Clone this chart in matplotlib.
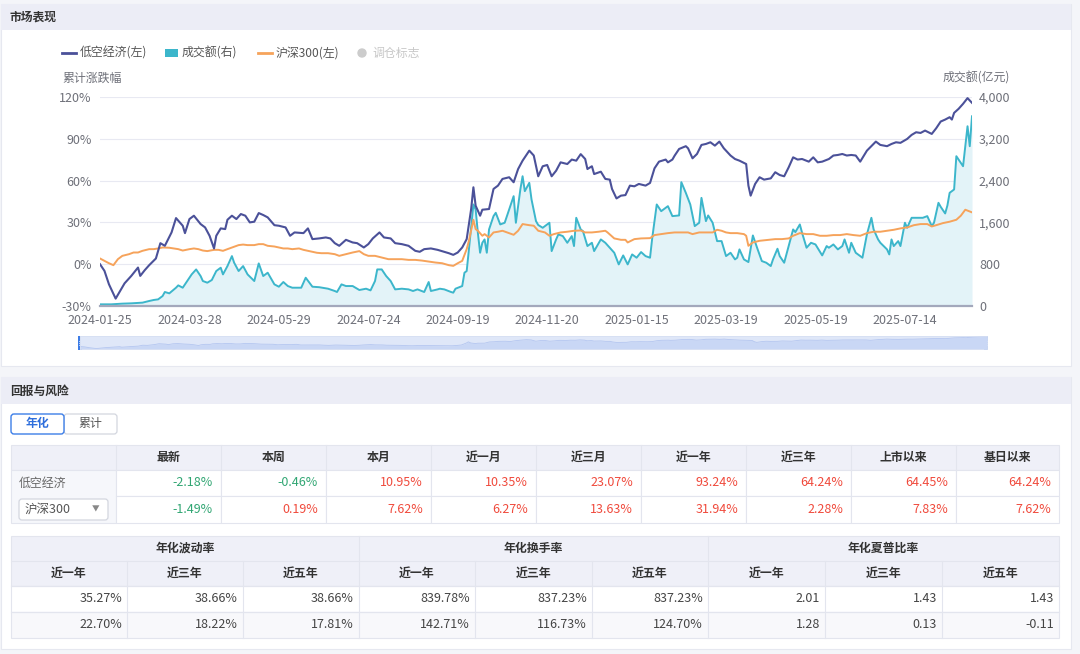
import matplotlib
matplotlib.use("Agg")
import matplotlib.pyplot as plt
from matplotlib.patches import Rectangle, FancyBboxPatch, Circle
from matplotlib.ticker import FuncFormatter

plt.rcParams['font.family'] = ['Noto Sans CJK SC', 'DejaVu Sans']

# ---- chart data (trading-day index since 2024-01-25)
date_labels = ['2024-01-25', '2024-03-28', '2024-05-29', '2024-07-24', '2024-09-19',
               '2024-11-20', '2025-01-15', '2025-03-19', '2025-05-19', '2025-07-14']
days_per_label = 40

low_day = [0, 2, 4, 7, 9, 11, 14, 17, 18, 20, 22, 25, 27, 29, 32, 34, 37, 38, 40, 42,
           45, 47, 49, 51, 52, 54, 56, 57, 59, 61, 63, 65, 67, 69, 71, 73, 75, 78, 80, 83,
           85, 87, 91, 93, 95, 98, 101, 103, 105, 107, 110, 113, 115, 118, 120, 122, 125, 127, 130, 132,
           135, 138, 141, 143, 145, 148, 151, 154, 156, 158, 160, 162, 164, 166, 167, 168, 170, 171, 174, 176,
           178, 180, 183, 185, 187, 189, 192, 194, 196, 198, 200, 202, 204, 206, 209, 211, 213, 215, 217, 218,
           220, 221, 224, 226, 228, 229, 231, 233, 235, 237, 239, 241, 244, 246, 248, 250, 253, 254, 256, 257,
           259, 262, 263, 265, 267, 269, 271, 273, 275, 277, 279, 282, 284, 286, 289, 290, 291, 293, 295, 297,
           300, 302, 304, 306, 308, 310, 312, 314, 317, 319, 321, 323, 326, 328, 330, 332, 334, 336, 338, 340,
           343, 345, 347, 349, 352, 354, 356, 358, 361, 363, 365, 367, 369, 372, 374, 376, 378, 380, 381, 382,
           384, 386, 388, 390]
low_pct = [0, -4.8, -14.4, -24.7, -19.2, -13.7, -8.4, -2.4, -8.4, -4.3, -0.7, 4.1, 15.1, 13.2, 22.8, 33.1, 27.6, 22.3, 32.4, 34.8,
           28.8, 26.4, 20.4, 11.3, 20.4, 25.7, 25.2, 31.9, 34.8, 32.4, 36.0, 34.8, 30.0, 30.5, 36.7, 35.3, 33.6, 28.0, 27.6, 26.4,
           20.4, 22.8, 22.3, 25.7, 18.0, 18.5, 19.2, 18.5, 15.1, 13.2, 17.5, 15.6, 15.1, 12.0, 14.4, 18.5, 22.8, 19.2, 18.5, 15.1,
           14.4, 13.2, 9.6, 8.9, 10.8, 11.3, 10.3, 8.9, 7.9, 6.7, 8.4, 12.0, 18.0, 39.6, 55.2, 42.0, 34.8, 39.1, 39.6, 54.0,
           56.4, 61.2, 62.4, 58.8, 68.3, 74.3, 81.5, 78.0, 63.1, 70.3, 71.2, 63.1, 67.1, 73.1, 71.9, 75.1, 74.3, 79.0, 75.5, 68.3,
           70.3, 64.7, 66.4, 61.2, 60.7, 54.0, 47.2, 49.2, 49.6, 56.4, 55.9, 57.6, 56.4, 58.3, 68.8, 73.6, 75.1, 73.1, 75.1, 77.9,
           82.7, 84.7, 83.2, 76.0, 79.1, 85.6, 86.3, 87.5, 85.1, 88.0, 83.2, 78.0, 75.5, 74.3, 71.9, 56.4, 49.2, 57.6, 62.4, 60.7,
           61.6, 66.0, 64.0, 63.1, 69.5, 76.7, 75.1, 75.5, 73.6, 76.7, 73.1, 73.6, 75.5, 78.0, 78.4, 79.1, 78.0, 78.4, 78.0, 73.6,
           81.5, 84.7, 88.0, 85.6, 84.7, 86.3, 87.5, 87.1, 89.9, 92.8, 94.7, 94.2, 95.9, 93.5, 97.6, 102.4, 103.8, 105.5, 103.8, 108.6,
           111.5, 115.1, 119.2, 115.8]

hs_day = [0, 2, 4, 6, 8, 10, 13, 15, 17, 19, 22, 24, 26, 28, 31, 33, 35, 37, 40, 42,
          44, 46, 48, 51, 53, 55, 57, 60, 62, 64, 66, 69, 71, 73, 75, 78, 80, 82, 84, 86,
          89, 91, 93, 95, 97, 99, 102, 105, 107, 110, 113, 116, 118, 120, 123, 126, 129, 132, 135, 138,
          141, 144, 147, 150, 153, 156, 158, 160, 162, 164, 165, 167, 168, 169, 171, 172, 174, 176, 178, 180,
          183, 185, 187, 189, 192, 194, 196, 199, 201, 203, 206, 209, 212, 215, 217, 220, 223, 226, 227, 230,
          233, 235, 236, 239, 242, 246, 248, 251, 254, 257, 260, 263, 265, 268, 271, 274, 276, 278, 280, 282,
          285, 288, 289, 290, 292, 295, 299, 302, 305, 308, 310, 313, 316, 319, 322, 325, 328, 331, 334, 337,
          340, 343, 346, 349, 352, 355, 358, 361, 364, 367, 370, 372, 374, 377, 380, 383, 385, 387, 390]
hs_pct = [4.1, 2.4, 0.7, -0.7, 3.6, 6.0, 7.2, 8.4, 8.4, 9.6, 10.8, 10.8, 11.3, 12.0, 11.8, 11.3, 10.8, 9.8, 10.8, 11.3,
          10.8, 9.8, 9.4, 10.3, 10.3, 9.6, 10.8, 12.5, 13.7, 14.1, 13.7, 13.7, 14.4, 14.4, 13.2, 12.7, 12.0, 11.3, 11.3, 10.8,
          11.3, 10.3, 9.6, 8.9, 8.2, 7.9, 7.9, 7.2, 6.0, 7.2, 8.4, 9.4, 7.2, 6.0, 6.0, 4.8, 3.6, 3.6, 3.6, 3.1,
          3.1, 2.6, 1.9, 1.2, 0.7, -0.7, -1.2, 0.7, 2.4, 10.8, 16.8, 31.9, 25.2, 24.0, 20.4, 21.6, 19.2, 22.8, 23.3, 24.0,
          22.3, 21.1, 24.0, 28.8, 28.0, 27.6, 24.0, 22.8, 20.4, 21.6, 22.8, 23.3, 24.0, 24.2, 22.8, 22.8, 23.3, 24.0, 22.8, 18.5,
          17.5, 17.5, 15.6, 18.0, 18.5, 18.7, 20.9, 21.6, 22.3, 22.8, 22.8, 22.8, 21.6, 22.8, 22.8, 22.8, 24.7, 24.0, 22.8, 22.3,
          22.3, 21.6, 20.4, 13.2, 15.6, 16.8, 17.5, 18.0, 18.0, 18.5, 20.4, 22.3, 21.6, 21.6, 20.4, 20.4, 20.9, 20.9, 21.6, 20.9,
          20.4, 22.3, 23.3, 23.3, 24.0, 24.7, 25.7, 26.4, 28.0, 28.8, 28.8, 27.1, 28.0, 29.5, 30.5, 31.9, 34.8, 39.1, 37.2]

vol_day = [0, 5, 10, 14, 19, 22, 24, 26, 28, 29, 31, 34, 35, 37, 39, 41, 43, 45, 46, 48,
           50, 52, 54, 55, 57, 59, 60, 62, 64, 66, 69, 71, 73, 75, 78, 80, 82, 84, 86, 90,
           92, 95, 98, 102, 105, 106, 108, 110, 113, 116, 119, 121, 123, 124, 126, 128, 130, 132, 135, 138,
           140, 142, 145, 147, 148, 151, 152, 154, 157, 158, 159, 162, 163, 164, 165, 167, 168, 169, 170, 171,
           172, 173, 174, 176, 177, 179, 181, 183, 185, 186, 188, 189, 190, 192, 193, 195, 196, 198, 201, 202,
           204, 205, 207, 209, 211, 212, 213, 215, 216, 218, 220, 221, 224, 226, 228, 230, 232, 234, 236, 238,
           240, 242, 244, 246, 247, 249, 251, 253, 254, 256, 259, 260, 262, 264, 266, 268, 269, 271, 272, 274,
           276, 278, 280, 282, 284, 285, 286, 288, 290, 292, 294, 296, 298, 300, 301, 303, 304, 306, 308, 310,
           311, 313, 314, 316, 318, 320, 323, 325, 326, 328, 330, 332, 333, 335, 336, 338, 341, 343, 345, 346,
           348, 349, 352, 353, 354, 355, 357, 358, 360, 361, 363, 366, 368, 370, 372, 373, 375, 376, 378, 379,
           380, 382, 383, 385, 386, 388, 389, 390]
vol_amt = [32, 32, 45, 51, 64, 96, 115, 127, 191, 268, 242, 350, 395, 350, 478, 605, 700, 573, 478, 446,
           497, 669, 733, 605, 764, 955, 828, 669, 764, 605, 478, 815, 573, 637, 414, 369, 459, 382, 350, 350,
           541, 369, 360, 331, 287, 268, 414, 382, 382, 306, 331, 299, 478, 700, 700, 573, 478, 318, 331, 318,
           287, 318, 268, 459, 287, 318, 331, 318, 268, 255, 331, 382, 637, 669, 1083, 1943, 1847, 1401, 1019, 1210,
           1274, 1019, 1465, 1720, 1784, 1561, 1593, 1847, 2102, 1593, 2230, 2484, 2198, 2357, 2038, 1624, 1550, 1497, 1593, 1051,
           1274, 1370, 1338, 1210, 1338, 1147, 1688, 1465, 1433, 1147, 1210, 1051, 1274, 1210, 1115, 1019, 796, 968, 796, 987,
           924, 1032, 955, 924, 1306, 1943, 1815, 1879, 1911, 1720, 1733, 2370, 2166, 1943, 1529, 1593, 2070, 1624, 1733, 1593,
           1242, 1242, 955, 1019, 892, 924, 1083, 892, 841, 1350, 1100, 860, 828, 764, 892, 1096, 955, 828, 1147, 1465,
           1414, 1561, 1401, 1115, 1210, 1178, 968, 1147, 1115, 1178, 1083, 1147, 1274, 1019, 1210, 1019, 924, 1370, 1688, 1465,
           1274, 1210, 1083, 987, 1274, 1147, 1242, 1147, 1593, 1497, 1688, 1688, 1688, 1720, 1529, 1593, 1975, 1898, 1771, 1924,
           2166, 2230, 2867, 2739, 2675, 3440, 3058, 3631]

pct_ticks = [-30, 0, 30, 60, 90, 120]
vol_ticks = [0, 800, 1600, 2400, 3200, 4000]

# ---- table data
ret_cols = ['最新', '本周', '本月', '近一月', '近三月', '近一年', '近三年', '上市以来', '基日以来']
ret_low = ['-2.18%', '-0.46%', '10.95%', '10.35%', '23.07%', '93.24%', '64.24%', '64.45%', '64.24%']
ret_hs = ['-1.49%', '0.19%', '7.62%', '6.27%', '13.63%', '31.94%', '2.28%', '7.83%', '7.62%']

risk_groups = ['年化波动率', '年化换手率', '年化夏普比率']
risk_periods = ['近一年', '近三年', '近五年']
risk_low = ['35.27%', '38.66%', '38.66%', '839.78%', '837.23%', '837.23%', '2.01', '1.43', '1.43']
risk_hs = ['22.70%', '18.22%', '17.81%', '142.71%', '116.73%', '124.70%', '1.28', '0.13', '-0.11']

C_LOW = '#4b5199'
C_VOL = '#3cb6cb'
C_HS = '#f6a35b'
C_TXT = '#6e7079'
C_RED = '#f04a3c'
C_GREEN = '#31a673'

W, H = 1080, 654
fig = plt.figure(figsize=(W / 100, H / 100), dpi=100)
fig.patch.set_facecolor('#f4f5f9')

bg = fig.add_axes([0, 0, 1, 1])
bg.set_xlim(0, W)
bg.set_ylim(H, 0)
bg.axis('off')


def box(x0, y0, x1, y1, fc, ec='none', lw=0.8, z=1):
    bg.add_patch(Rectangle((x0, y0), x1 - x0, y1 - y0, fc=fc, ec=ec, lw=lw, zorder=z))


# Cards and headers
box(1, 4, 1071, 366, 'white', '#e6e8f0')
box(1, 4, 1071, 30, '#ecedf6')
bg.text(10, 17, '市场表现', fontsize=8.5, weight='bold', color='#333', va='center')
box(1, 377, 1071, 649, 'white', '#e6e8f0')
box(1, 377, 1071, 404, '#ecedf6')
bg.text(10, 391, '回报与风险', fontsize=8.5, weight='bold', color='#333', va='center')

# Legend
bg.plot([62, 76], [53, 53], color=C_LOW, lw=2)
bg.text(80, 53, '低空经济(左)', fontsize=8.6, color='#555', va='center')
box(165, 49, 178, 57, C_VOL, z=2)
bg.text(182, 53, '成交额(右)', fontsize=8.6, color='#555', va='center')
bg.plot([258, 272], [53, 53], color=C_HS, lw=2)
bg.text(276, 53, '沪深300(左)', fontsize=8.6, color='#555', va='center')
bg.add_patch(Circle((362, 53), 4, color='#cccccc', zorder=2))
bg.text(372, 53, '调仓标志', fontsize=8.6, color='#c8c8c8', va='center')

bg.text(62, 78, '累计涨跌幅', fontsize=8.6, color=C_TXT, va='center')
bg.text(1010, 78, '成交额(亿元)', fontsize=8.6, color=C_TXT, va='center', ha='right')

# Main chart: volume axis underneath, percent axis on top
ax_vol = fig.add_axes([100 / W, 1 - 306 / H, 872 / W, 209 / H])
ax_vol.set_facecolor('none')
ax_vol.fill_between(vol_day, vol_amt, 0, color='#e3f3f8', lw=0, zorder=1)
ax_vol.plot(vol_day, vol_amt, color=C_VOL, lw=1.4, zorder=2)
ax_vol.set_xlim(0, 390)
ax_vol.set_ylim(0, 4000)
ax_vol.set_yticks(vol_ticks)
ax_vol.yaxis.set_major_formatter(FuncFormatter(lambda v, p: f'{v:,.0f}'))
ax_vol.set_xticks([i * days_per_label for i in range(len(date_labels))], date_labels)
ax_vol.grid(axis='y', color='#e8e9f2', lw=0.8, zorder=0)
ax_vol.set_axisbelow(True)
for s in ['top', 'left', 'right']:
    ax_vol.spines[s].set_visible(False)
ax_vol.spines['bottom'].set_color('#a3a8bc')
ax_vol.spines['bottom'].set_linewidth(1.6)

ax_pct = ax_vol.twinx()
ax_pct.plot(hs_day, hs_pct, color=C_HS, lw=1.4, zorder=3)
ax_pct.plot(low_day, low_pct, color=C_LOW, lw=1.5, zorder=4)
ax_pct.set_ylim(-30, 120)
ax_pct.set_yticks(pct_ticks)
ax_pct.yaxis.set_major_formatter(FuncFormatter(lambda v, p: f'{v:.0f}%'))
for s in ax_pct.spines.values():
    s.set_visible(False)

# twinx moves the original ticks to the left, so put them back afterwards
ax_vol.yaxis.set_ticks_position('right')
ax_vol.yaxis.set_label_position('right')
ax_pct.yaxis.set_ticks_position('left')
ax_vol.tick_params(axis='y', which='both', left=False, labelleft=False, right=False,
                   labelright=True, length=0, pad=5, labelsize=9, labelcolor=C_TXT)
ax_vol.tick_params(axis='x', length=0, pad=6, labelsize=9, labelcolor=C_TXT)
ax_pct.tick_params(axis='y', which='both', right=False, labelright=False, left=False,
                   labelleft=True, length=0, pad=6, labelsize=9, labelcolor=C_TXT)

# Data-zoom slider
sl = fig.add_axes([80 / W, 1 - 349 / H, 907 / W, 13 / H])
sl.set_facecolor('#dfe7f8')
sl.fill_between(low_day, low_pct, -30, color='#c9d7f5', lw=0)
sl.plot(low_day, low_pct, color='#b4c6f0', lw=0.6)
sl.set_xlim(0, 390)
sl.set_ylim(-30, 125)
sl.set_xticks([])
sl.set_yticks([])
for s in sl.spines.values():
    s.set_color('#d6dff3')
    s.set_linewidth(0.6)
for hx in (78, 984):
    box(hx, 336, hx + 4, 350, '#3d7ce6', z=5)
    for dy in (-2, 0, 2):
        bg.plot([hx + 1.2, hx + 2.8], [343 + dy, 343 + dy], color='white', lw=0.5, zorder=6)

# Toggle buttons
bg.add_patch(FancyBboxPatch((64, 414), 53, 20, boxstyle='round,pad=0,rounding_size=3',
                            fc='white', ec='#d3d6df', lw=0.9, zorder=2))
bg.add_patch(FancyBboxPatch((11, 414), 53, 20, boxstyle='round,pad=0,rounding_size=3',
                            fc='white', ec='#3d7ee8', lw=1.0, zorder=3))
bg.text(37.5, 424, '年化', fontsize=8.6, weight='bold', color='#2f6fdc', ha='center', va='center', zorder=4)
bg.text(90.5, 424, '累计', fontsize=8.6, color='#555', ha='center', va='center', zorder=4)

# Returns table
GRID = '#e3e5ee'
HEAD = '#eff0f8'
t1_x = [11, 116, 221, 326, 431, 536, 641, 746, 851, 956, 1059]
t1_y = [445, 470, 496, 523]
box(t1_x[0], t1_y[0], t1_x[-1], t1_y[1], HEAD, GRID)
box(t1_x[0], t1_y[1], t1_x[1], t1_y[3], '#f6f7fb', GRID)
for r in range(1, 3):
    for c in range(1, len(t1_x) - 1):
        box(t1_x[c], t1_y[r], t1_x[c + 1], t1_y[r + 1], 'white', GRID)
for c in range(1, len(t1_x) - 1):
    bg.plot([t1_x[c], t1_x[c]], [t1_y[0], t1_y[1]], color=GRID, lw=0.8, zorder=2)
    bg.text((t1_x[c] + t1_x[c + 1]) / 2, (t1_y[0] + t1_y[1]) / 2, ret_cols[c - 1],
            fontsize=8.6, weight='bold', color='#333', ha='center', va='center', zorder=3)
for r, vals in enumerate([ret_low, ret_hs], start=1):
    yc = (t1_y[r] + t1_y[r + 1]) / 2
    for c, v in enumerate(vals, start=1):
        col = C_GREEN if v.startswith('-') else C_RED
        bg.text(t1_x[c + 1] - 8, yc, v, fontsize=9, color=col, ha='right', va='center', zorder=3)
bg.text(19, (t1_y[1] + t1_y[2]) / 2, '低空经济', fontsize=8.6, color='#666', va='center', zorder=3)
bg.add_patch(FancyBboxPatch((19, 499), 89, 21, boxstyle='round,pad=0,rounding_size=3',
                            fc='white', ec='#d3d6df', lw=0.9, zorder=3))
bg.text(25, 509.5, '沪深300', fontsize=9, color='#555', va='center', zorder=4)
bg.text(96, 509.5, '▼', fontsize=5.5, color='#888', va='center', ha='center', zorder=4)

# Risk table
t2_x = [11, 127, 243, 359, 475, 592, 708, 825, 942, 1059]
t2_y = [536, 561, 586, 612, 638]
box(t2_x[0], t2_y[0], t2_x[-1], t2_y[2], HEAD, GRID)
box(t2_x[0], t2_y[2], t2_x[-1], t2_y[3], 'white', GRID)
box(t2_x[0], t2_y[3], t2_x[-1], t2_y[4], '#f8f8fb', GRID)
for r in (1, 2, 3):
    bg.plot([t2_x[0], t2_x[-1]], [t2_y[r], t2_y[r]], color=GRID, lw=0.8, zorder=2)
for c in range(1, len(t2_x) - 1):
    top = t2_y[0] if c % 3 == 0 else t2_y[1]
    bg.plot([t2_x[c], t2_x[c]], [top, t2_y[4]], color=GRID, lw=0.8, zorder=2)
for g, name in enumerate(risk_groups):
    bg.text((t2_x[g * 3] + t2_x[g * 3 + 3]) / 2, (t2_y[0] + t2_y[1]) / 2, name,
            fontsize=8.6, weight='bold', color='#333', ha='center', va='center', zorder=3)
for c in range(9):
    bg.text((t2_x[c] + t2_x[c + 1]) / 2, (t2_y[1] + t2_y[2]) / 2, risk_periods[c % 3],
            fontsize=8.6, weight='bold', color='#333', ha='center', va='center', zorder=3)
for r, vals in enumerate([risk_low, risk_hs], start=2):
    yc = (t2_y[r] + t2_y[r + 1]) / 2
    for c, v in enumerate(vals):
        bg.text(t2_x[c + 1] - 5, yc, v, fontsize=9, color='#444', ha='right', va='center', zorder=3)

fig.savefig('out.png', dpi=100, facecolor=fig.get_facecolor())
